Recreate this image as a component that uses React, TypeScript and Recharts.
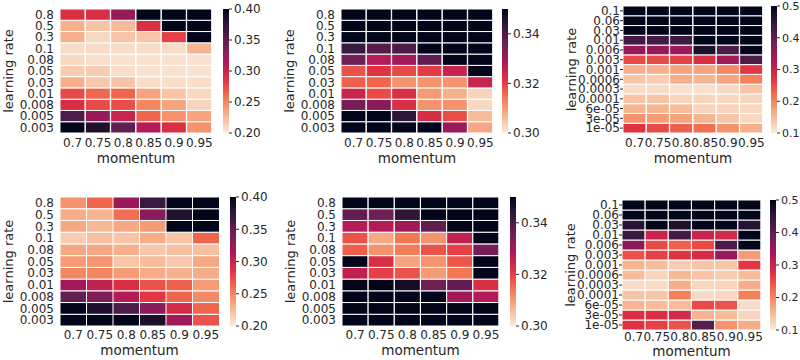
import { BarChart, Bar, XAxis, YAxis, Cell } from "recharts";

const momentum = ["0.7", "0.75", "0.8", "0.85", "0.9", "0.95"];
const lrCoarse = ["0.8", "0.5", "0.3", "0.1", "0.08", "0.05", "0.03", "0.01", "0.008", "0.005", "0.003"];
const lrFine = ["0.1", "0.06", "0.03", "0.01", "0.006", "0.003", "0.001", "0.0006", "0.0003", "0.0001", "6e-05", "3e-05", "1e-05"];

// rows listed top to bottom, columns follow momentum
const topLeft = [
  [0.29, 0.29, 0.325, 0.42, 0.42, 0.42],
  [0.23, 0.22, 0.225, 0.29, 0.41, 0.4],
  [0.23, 0.21, 0.22, 0.22, 0.28, 0.41],
  [0.208, 0.208, 0.208, 0.208, 0.208, 0.228],
  [0.21, 0.207, 0.205, 0.205, 0.205, 0.205],
  [0.216, 0.216, 0.207, 0.205, 0.205, 0.205],
  [0.23, 0.218, 0.22, 0.207, 0.207, 0.207],
  [0.276, 0.264, 0.264, 0.236, 0.22, 0.21],
  [0.29, 0.276, 0.274, 0.25, 0.236, 0.212],
  [0.36, 0.324, 0.3, 0.264, 0.244, 0.236],
  [0.4, 0.384, 0.35, 0.31, 0.29, 0.244],
];

const topMid = [
  [0.36, 0.36, 0.36, 0.36, 0.36, 0.36],
  [0.36, 0.36, 0.36, 0.36, 0.36, 0.36],
  [0.36, 0.36, 0.36, 0.36, 0.36, 0.36],
  [0.3425, 0.339, 0.34, 0.36, 0.36, 0.36],
  [0.336, 0.3275, 0.33, 0.3375, 0.36, 0.36],
  [0.318, 0.3215, 0.319, 0.3205, 0.325, 0.36],
  [0.3165, 0.316, 0.311, 0.311, 0.311, 0.325],
  [0.325, 0.319, 0.3225, 0.31, 0.3075, 0.303],
  [0.335, 0.3325, 0.3225, 0.311, 0.311, 0.3025],
  [0.36, 0.36, 0.344, 0.323, 0.3185, 0.306],
  [0.36, 0.36, 0.36, 0.36, 0.331, 0.3085],
];

const topRight = [
  [0.52, 0.52, 0.52, 0.52, 0.52, 0.52],
  [0.52, 0.52, 0.52, 0.52, 0.52, 0.52],
  [0.52, 0.52, 0.52, 0.52, 0.52, 0.52],
  [0.43, 0.43, 0.435, 0.52, 0.52, 0.52],
  [0.35, 0.35, 0.345, 0.47, 0.42, 0.52],
  [0.252, 0.252, 0.26, 0.28, 0.34, 0.42],
  [0.16, 0.16, 0.172, 0.172, 0.2, 0.268],
  [0.14, 0.132, 0.164, 0.156, 0.172, 0.204],
  [0.116, 0.116, 0.112, 0.112, 0.12, 0.14],
  [0.14, 0.14, 0.124, 0.124, 0.12, 0.124],
  [0.156, 0.156, 0.148, 0.124, 0.124, 0.12],
  [0.188, 0.18, 0.172, 0.156, 0.14, 0.12],
  [0.272, 0.252, 0.232, 0.22, 0.188, 0.16],
];

const bottomLeft = [
  [0.244, 0.264, 0.324, 0.37, 0.41, 0.41],
  [0.232, 0.228, 0.26, 0.33, 0.384, 0.41],
  [0.234, 0.226, 0.234, 0.24, 0.41, 0.41],
  [0.216, 0.222, 0.22, 0.232, 0.22, 0.264],
  [0.234, 0.234, 0.23, 0.218, 0.222, 0.222],
  [0.24, 0.244, 0.22, 0.224, 0.218, 0.234],
  [0.25, 0.25, 0.24, 0.232, 0.23, 0.232],
  [0.32, 0.304, 0.29, 0.272, 0.266, 0.24],
  [0.35, 0.336, 0.31, 0.284, 0.264, 0.248],
  [0.41, 0.384, 0.36, 0.33, 0.294, 0.264],
  [0.41, 0.41, 0.41, 0.386, 0.32, 0.272],
];

const bottomMid = [
  [0.36, 0.36, 0.36, 0.36, 0.36, 0.36],
  [0.3375, 0.336, 0.344, 0.36, 0.36, 0.36],
  [0.3275, 0.3275, 0.33, 0.3375, 0.36, 0.36],
  [0.318, 0.3085, 0.314, 0.311, 0.326, 0.36],
  [0.3165, 0.311, 0.3135, 0.318, 0.32, 0.335],
  [0.36, 0.3225, 0.309, 0.311, 0.3175, 0.36],
  [0.326, 0.32, 0.318, 0.31, 0.314, 0.36],
  [0.36, 0.36, 0.3475, 0.336, 0.3375, 0.3225],
  [0.36, 0.36, 0.36, 0.36, 0.33, 0.3275],
  [0.36, 0.36, 0.36, 0.36, 0.36, 0.36],
  [0.36, 0.36, 0.36, 0.36, 0.36, 0.36],
];

const bottomRight = [
  [0.52, 0.52, 0.52, 0.52, 0.52, 0.52],
  [0.52, 0.52, 0.52, 0.52, 0.52, 0.52],
  [0.46, 0.52, 0.468, 0.52, 0.52, 0.46],
  [0.44, 0.3, 0.428, 0.3, 0.288, 0.52],
  [0.36, 0.252, 0.232, 0.252, 0.42, 0.52],
  [0.244, 0.26, 0.272, 0.284, 0.348, 0.18],
  [0.156, 0.148, 0.132, 0.14, 0.14, 0.268],
  [0.148, 0.124, 0.152, 0.14, 0.132, 0.148],
  [0.116, 0.116, 0.164, 0.12, 0.124, 0.164],
  [0.14, 0.14, 0.204, 0.116, 0.12, 0.204],
  [0.156, 0.148, 0.148, 0.252, 0.244, 0.116],
  [0.28, 0.28, 0.288, 0.156, 0.148, 0.124],
  [0.272, 0.26, 0.244, 0.412, 0.188, 0.164],
];

const TEXT = "#262626";
// seaborn rocket_r, light -> dark
const ROCKET_R = ["#faebdd", "#f6b48f", "#f37651", "#e13342", "#ad1759", "#701f57", "#35193e", "#03051a"];

function hexToRgb(h: string) {
  return [1, 3, 5].map((i) => parseInt(h.slice(i, i + 2), 16));
}

function colorFor(v: number, vmin: number, vmax: number) {
  const t = Math.min(1, Math.max(0, (v - vmin) / (vmax - vmin)));
  const pos = t * (ROCKET_R.length - 1);
  const i = Math.min(ROCKET_R.length - 2, Math.floor(pos));
  const f = pos - i;
  const a = hexToRgb(ROCKET_R[i]);
  const b = hexToRgb(ROCKET_R[i + 1]);
  const c = a.map((x, k) => Math.round(x + (b[k] - x) * f));
  return `rgb(${c[0]},${c[1]},${c[2]})`;
}

type Rect = { x0: number; y0: number; x1: number; y1: number };

type HeatProps = {
  rect: Rect;
  rows: string[];
  values: number[][];
  vmin: number;
  vmax: number;
  marks?: boolean;
  tickGap?: number;
  labelOffset?: number;
};

function Heatmap({ rect, rows, values, vmin, vmax, marks, tickGap = 3, labelOffset = 6 }: HeatProps) {
  const n = rows.length;
  const data = momentum.map((m) => {
    const d: Record<string, string | number> = { m };
    rows.forEach((_, i) => (d[`r${i}`] = 1));
    return d;
  });
  const ticks = rows.map((_, k) => k + 0.5);
  // stack from the bottom row up
  const order = rows.map((_, k) => n - 1 - k);
  return (
    <div style={{ position: "absolute", left: rect.x0 - 60, top: rect.y0 - 10 }}>
      <BarChart
        width={rect.x1 - rect.x0 + 64}
        height={rect.y1 - rect.y0 + 46}
        data={data}
        margin={{ top: 10, right: 4, left: 0, bottom: 0 }}
        barCategoryGap={0}
      >
        <XAxis
          dataKey="m"
          interval={0}
          axisLine={false}
          tickLine={false}
          tickSize={tickGap}
          tickMargin={2}
          height={36}
          tick={{ fontSize: 12, fill: TEXT }}
          label={{ value: "momentum", position: "insideBottom", offset: labelOffset, fontSize: 13.5, fill: TEXT }}
        />
        <YAxis
          type="number"
          domain={[0, n]}
          ticks={ticks}
          interval={0}
          width={60}
          axisLine={false}
          tickLine={marks ? { stroke: TEXT } : false}
          tickSize={3}
          tickMargin={marks ? 0 : 3}
          tick={{ fontSize: 12, fill: TEXT }}
          tickFormatter={(v: number) => rows[n - 1 - Math.floor(v)]}
          label={{ value: "learning rate", angle: -90, position: "insideLeft", offset: 8, fontSize: 13, fill: TEXT, style: { textAnchor: "middle" } }}
        />
        {order.map((i) => (
          <Bar key={i} dataKey={`r${i}`} stackId="s" isAnimationActive={false}>
            {values[i].map((v, j) => (
              <Cell key={j} fill={colorFor(v, vmin, vmax)} stroke="#ffffff" strokeWidth={1} />
            ))}
          </Bar>
        ))}
      </BarChart>
    </div>
  );
}

function Colorbar({ rect, vmin, vmax, ticks, dec, id, fontSize = 12 }: { rect: Rect; vmin: number; vmax: number; ticks: number[]; dec: number; id: string; fontSize?: number }) {
  const data = [{ k: "cb", range: [vmin, vmax] }];
  const steps = ROCKET_R.length - 1;
  return (
    <div style={{ position: "absolute", left: rect.x0, top: rect.y0 - 10 }}>
      <BarChart
        width={rect.x1 - rect.x0 + 36}
        height={rect.y1 - rect.y0 + 20}
        data={data}
        margin={{ top: 10, right: 0, left: 0, bottom: 10 }}
        barCategoryGap={0}
      >
        <defs>
          <linearGradient id={id} x1="0" y1="0" x2="0" y2="1">
            {ROCKET_R.map((c, i) => (
              <stop key={i} offset={1 - i / steps} stopColor={c} />
            )).reverse()}
          </linearGradient>
        </defs>
        <XAxis dataKey="k" hide />
        <YAxis
          orientation="right"
          type="number"
          domain={[vmin, vmax]}
          ticks={ticks}
          interval={0}
          width={36}
          axisLine={false}
          tickSize={3}
          tickMargin={2}
          tickLine={{ stroke: TEXT }}
          tick={{ fontSize, fill: TEXT }}
          tickFormatter={(v: number) => v.toFixed(dec)}
        />
        <Bar dataKey="range" fill={`url(#${id})`} isAnimationActive={false} />
      </BarChart>
    </div>
  );
}

export default function App() {
  return (
    <div style={{ position: "absolute", left: 0, top: 0, width: 800, height: 360, overflow: "hidden", background: "#fff", fontFamily: "'DejaVu Sans', sans-serif" }}>
      <Heatmap rect={{ x0: 60, y0: 9, x1: 212, y1: 133 }} rows={lrCoarse} values={topLeft} vmin={0.2} vmax={0.4} />
      <Colorbar rect={{ x0: 223, y0: 9, x1: 229, y1: 133 }} vmin={0.2} vmax={0.4} ticks={[0.2, 0.25, 0.3, 0.35, 0.4]} dec={2} id="cb1" />
      <Heatmap rect={{ x0: 341, y0: 9, x1: 493, y1: 133 }} rows={lrCoarse} values={topMid} vmin={0.3} vmax={0.35} />
      <Colorbar rect={{ x0: 502, y0: 9, x1: 508, y1: 133 }} vmin={0.3} vmax={0.35} ticks={[0.3, 0.32, 0.34]} dec={2} id="cb2" />
      <Heatmap rect={{ x0: 623, y0: 6, x1: 763, y1: 133 }} rows={lrFine} values={topRight} vmin={0.1} vmax={0.5} marks />
      <Colorbar rect={{ x0: 771, y0: 6, x1: 777, y1: 133 }} vmin={0.1} vmax={0.5} ticks={[0.1, 0.2, 0.3, 0.4, 0.5]} dec={1} id="cb3" fontSize={11} />

      <Heatmap rect={{ x0: 60, y0: 197, x1: 219, y1: 326 }} rows={lrCoarse} values={bottomLeft} vmin={0.2} vmax={0.4} tickGap={2} labelOffset={7} />
      <Colorbar rect={{ x0: 230, y0: 197, x1: 236, y1: 326 }} vmin={0.2} vmax={0.4} ticks={[0.2, 0.25, 0.3, 0.35, 0.4]} dec={2} id="cb4" />
      <Heatmap rect={{ x0: 342, y0: 197, x1: 499, y1: 326 }} rows={lrCoarse} values={bottomMid} vmin={0.3} vmax={0.35} tickGap={2} labelOffset={7} />
      <Colorbar rect={{ x0: 510, y0: 197, x1: 516, y1: 326 }} vmin={0.3} vmax={0.35} ticks={[0.3, 0.32, 0.34]} dec={2} id="cb5" />
      <Heatmap rect={{ x0: 622, y0: 200, x1: 761, y1: 330 }} rows={lrFine} values={bottomRight} vmin={0.1} vmax={0.5} marks tickGap={0} labelOffset={10} />
      <Colorbar rect={{ x0: 770, y0: 200, x1: 776, y1: 330 }} vmin={0.1} vmax={0.5} ticks={[0.1, 0.2, 0.3, 0.4, 0.5]} dec={1} id="cb6" fontSize={11} />
    </div>
  );
}
